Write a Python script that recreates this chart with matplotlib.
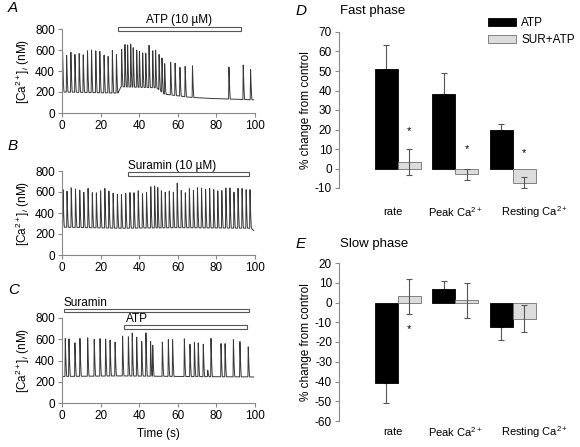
import numpy as np
import matplotlib
matplotlib.use('Agg')
from matplotlib import pyplot as plt

plt.rcParams['font.family'] = ['Liberation Sans', 'DejaVu Sans']
plt.rcParams['font.size'] = 8.5
plt.rcParams['axes.unicode_minus'] = False
plt.rcParams['mathtext.fontset'] = 'custom'
plt.rcParams['mathtext.rm'] = 'Liberation Sans'
plt.rcParams['mathtext.it'] = 'Liberation Sans:italic'

#%% data: spike times (s), peak values (nM), baseline (nM)
a_spike_t = [0.3, 2.4, 4.6, 6.7, 8.9, 11.0, 13.2, 15.3, 17.5, 19.6, 21.8, 23.9, 26.1, 28.2,
             30.9, 32.6, 34.0, 35.6, 36.9, 38.7, 40.1, 41.8, 43.4, 45.1, 47.0, 48.5, 50.3,
             51.8, 53.2, 56.3, 58.6, 61.1, 63.8, 67.6, 86.5, 93.9, 97.7]
a_spike_peak = [590, 550, 580, 560, 570, 560, 600, 610, 600, 590, 550, 540, 600, 560,
                610, 660, 650, 660, 630, 600, 590, 580, 570, 650, 600, 600, 560,
                530, 470, 490, 480, 440, 450, 450, 440, 460, 420]
a_base_t = [0, 29, 30.5, 49, 53, 66, 75, 100]
a_base_v = [200, 190, 250, 240, 180, 150, 140, 125]

b_spike_t = [0.5, 2.6, 4.8, 7.0, 9.2, 11.3, 13.5, 15.7, 17.8, 20.0, 22.2, 24.3, 26.5, 28.7,
             30.8, 33.0, 35.2, 37.3, 39.5, 41.7, 43.8, 46.0, 48.0, 49.6, 51.5, 53.5, 55.6,
             57.7, 59.7, 61.8, 63.9, 66.0, 68.1, 70.2, 72.3, 74.4, 76.5, 78.6, 80.7, 82.8,
             84.9, 87.0, 89.1, 91.2, 93.3, 95.4, 97.4]
b_spike_peak = [630, 610, 640, 630, 620, 600, 640, 600, 600, 620, 640, 610, 590, 580,
                580, 590, 600, 600, 620, 590, 600, 650, 660, 650, 620, 600, 610,
                600, 690, 620, 600, 640, 620, 640, 640, 630, 640, 630, 620, 620,
                640, 640, 600, 640, 640, 630, 630]
b_base_t = [0, 30, 60, 98, 100]
b_base_v = [265, 255, 260, 255, 220]

c_spike_t = [1.7, 3.6, 6.7, 9.3, 13.3, 16.7, 19.7, 22.6, 24.9, 27.5, 31.4, 34.4, 36.4,
             38.7, 41.3, 43.5, 45.9, 47.0, 52.0, 55.1, 57.3, 63.4, 66.3, 68.6, 70.6,
             73.2, 75.5, 77.2, 82.4, 84.5, 88.8, 92.2, 96.5]
c_spike_peak = [610, 610, 570, 610, 620, 600, 610, 610, 600, 580, 630, 630, 660,
                620, 580, 660, 580, 550, 580, 600, 600, 610, 560, 580, 570,
                560, 310, 610, 560, 560, 600, 580, 530]
c_base_t = [0, 30, 60, 100]
c_base_v = [250, 255, 250, 245]

# bar charts
categories = ['rate', 'Peak Ca$^{2+}$', 'Resting Ca$^{2+}$']
fast_atp = [51, 38, 20]
fast_atp_err = [12.5, 11, 3]
fast_sur = [3.3, -3, -7.3]
fast_sur_err = [6.7, 3, 2.7]
fast_star = [19, 10, 8]
slow_atp = [-41, 7, -12.5]
slow_atp_err = [10, 4, 6.5]
slow_sur = [3.2, 1.2, -8.3]
slow_sur_err = [8.8, 8.8, 6.8]
slow_star = [-13.5, None, None]


def make_trace(spike_t, spike_peak, base_t, base_v, t_end=99.3):
    t = np.linspace(0, t_end, 6000)
    base = np.interp(t, base_t, base_v)
    y = base.copy()
    for tp, pk in zip(spike_t, spike_peak):
        b = np.interp(tp, base_t, base_v)
        rise = (t >= tp - 0.18) & (t < tp)
        y[rise] = np.maximum(y[rise], b + (pk - b) * (t[rise] - (tp - 0.18)) / 0.18)
        fall = (t >= tp) & (t < tp + 0.75)
        y[fall] = np.maximum(y[fall], b + (pk - b) * (1 - (t[fall] - tp) / 0.75) ** 1.6)
    return t, y


#%% set up figure
W, H = 580, 447
fig = plt.figure(figsize=(W / 100, H / 100), dpi=100)


def px_axes(left, top, right, bottom):
    return fig.add_axes([left / W, 1 - bottom / H, (right - left) / W, (bottom - top) / H])


def style_trace(ax):
    ax.set_xlim(0, 100)
    ax.set_ylim(0, 800)
    ax.set_xticks(np.arange(0, 101, 20))
    ax.set_yticks(np.arange(0, 801, 200))
    ax.spines['top'].set_visible(False)
    ax.spines['right'].set_visible(False)
    for s in ['left', 'bottom']:
        ax.spines[s].set_color('#888888')
        ax.spines[s].set_linewidth(0.8)
    ax.tick_params(length=3, width=0.8, color='#888888', labelsize=8.5, pad=2)
    ax.set_ylabel('[Ca$^{2+}$]$_i$ (nM)', labelpad=2)
    ax.patch.set_alpha(0)


def drug_bar(ax, x0, x1, y, label, text_x=None):
    ax.add_patch(plt.Rectangle((x0, y - 18), x1 - x0, 36, facecolor='white', edgecolor='#555555',
                               linewidth=0.8, clip_on=False))
    if text_x is None:
        ax.text((x0 + x1) / 2, y + 30, label, ha='center', va='bottom', fontsize=8.5, clip_on=False)
    else:
        ax.text(text_x, y + 18, label, ha='left', va='bottom', fontsize=8.5, clip_on=False)


axA = px_axes(62, 29, 255, 113)
axB = px_axes(62, 171, 255, 255)
axC = px_axes(62, 318, 255, 403)

for ax, (st, sp, bt, bv) in zip([axA, axB, axC],
                                [(a_spike_t, a_spike_peak, a_base_t, a_base_v),
                                 (b_spike_t, b_spike_peak, b_base_t, b_base_v),
                                 (c_spike_t, c_spike_peak, c_base_t, c_base_v)]):
    t, y = make_trace(st, sp, bt, bv)
    ax.plot(t, y, color='#383838', linewidth=0.7)
    style_trace(ax)

drug_bar(axA, 29, 92.5, 800, 'ATP (10 µM)')
drug_bar(axB, 34, 97, 775, 'Suramin (10 µM)', text_x=34)
drug_bar(axC, 1, 97, 870, 'Suramin', text_x=1)
drug_bar(axC, 32, 96, 715, 'ATP', text_x=33)
axC.set_xlabel('Time (s)', labelpad=4)

for lab, y in [('A', 8), ('B', 146), ('C', 290)]:
    fig.text(8 / W, 1 - y / H, lab, style='italic', fontsize=11, va='center', ha='left')

#%% bar panels
x = np.arange(3)
bw = 0.4
label_shift = [-0.09, 0.0, 0.38]


def bar_panel(ax, atp, atp_err, sur, sur_err, stars, ylim, yticks, label_y):
    ax.bar(x - bw / 2, atp, bw, color='black', edgecolor='black', linewidth=0.6, label='ATP', zorder=2)
    ax.bar(x + bw / 2, sur, bw, color='#dcdcdc', edgecolor='#707070', linewidth=0.6, label='SUR+ATP', zorder=2)
    # ATP: error only away from zero
    for xi, v, e in zip(x - bw / 2, atp, atp_err):
        lo, hi = (0, e) if v >= 0 else (e, 0)
        ax.errorbar(xi, v, yerr=[[lo], [hi]], fmt='none', ecolor='#555555', elinewidth=0.8,
                    capsize=2.5, capthick=0.8, zorder=1)
    ax.errorbar(x + bw / 2, sur, yerr=sur_err, fmt='none', ecolor='#555555', elinewidth=0.8,
                capsize=2.5, capthick=0.8, zorder=3)
    for xi, s in zip(x + bw / 2, stars):
        if s is not None:
            ax.text(xi, s, '*', ha='center', va='center', fontsize=8)
    ax.set_xlim(-1.026, 2.82)
    ax.set_ylim(*ylim)
    ax.set_yticks(yticks)
    ax.set_xticks([])
    for xi, sh, cat in zip(x, label_shift, categories):
        ax.text(xi + sh, label_y, cat, ha='center', va='center', fontsize=8,
                transform=ax.get_xaxis_transform())
    for s in ['top', 'right', 'bottom']:
        ax.spines[s].set_visible(False)
    ax.spines['left'].set_color('#888888')
    ax.spines['left'].set_linewidth(0.8)
    ax.tick_params(axis='y', length=3, width=0.8, color='#888888', labelsize=8.5, pad=2)
    ax.set_ylabel('% change from control', labelpad=2)
    ax.patch.set_alpha(0)


axD = px_axes(339, 32, 560, 188)
bar_panel(axD, fast_atp, fast_atp_err, fast_sur, fast_sur_err, fast_star, (-10, 70),
          np.arange(-10, 71, 10), -24 / 156)
axD.legend(loc='upper left', bbox_to_anchor=(488 / W, 1 - 17 / H), bbox_transform=fig.transFigure,
           frameon=False, fontsize=8.5, handlelength=2.4, handleheight=0.6, handletextpad=0.4,
           borderpad=0, borderaxespad=0, labelspacing=0.45)

axE = px_axes(339, 263, 560, 421)
bar_panel(axE, slow_atp, slow_atp_err, slow_sur, slow_sur_err, slow_star, (-60, 20),
          np.arange(-60, 21, 10), -11 / 158)

fig.text(296 / W, 1 - 11 / H, 'D', style='italic', fontsize=11, va='center', ha='left')
fig.text(340 / W, 1 - 11 / H, 'Fast phase', fontsize=9.5, va='center', ha='left')
fig.text(296 / W, 1 - 244 / H, 'E', style='italic', fontsize=11, va='center', ha='left')
fig.text(340 / W, 1 - 244 / H, 'Slow phase', fontsize=9.5, va='center', ha='left')

plt.savefig('out.png', dpi=100)
